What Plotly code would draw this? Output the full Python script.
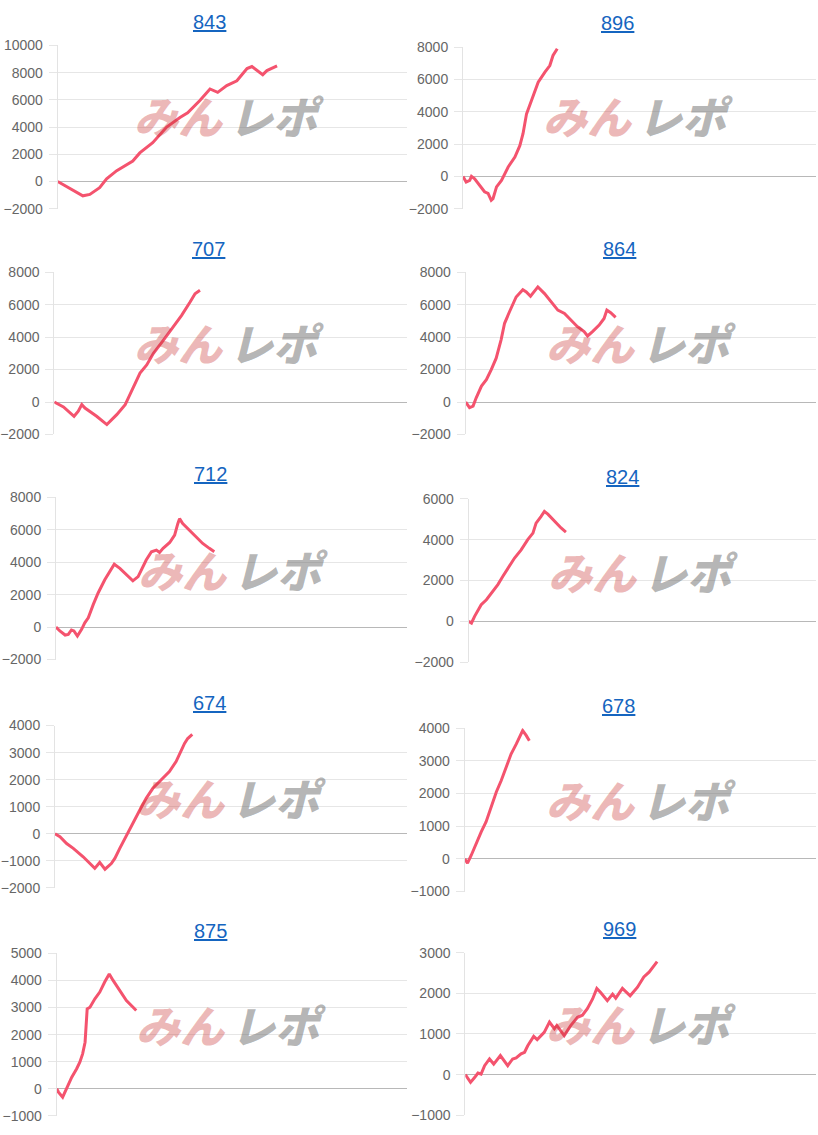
import plotly.graph_objects as go

W, H = 818, 1135

# machine numbers shown as panel titles
titles = ["843", "896", "707", "864", "712", "824", "674", "678", "875", "969"]

# x = progress through the day (0-100 of the axis), y = coin difference
g_843 = [0, 2, 5.4, 7.2, 9.2, 12, 14, 16.9, 21.5, 23.5, 27.2, 31.2, 35, 37.2, 40.7, 43.6, 45.8, 48.4, 51.3, 54.2,
         55.6, 58.7, 59.9, 62.8]
d_843 = [0, -300, -800, -1050, -950, -450, 200, 800, 1500, 2100, 2850, 4000, 4700, 5050, 5950, 6800, 6550, 7050,
         7400, 8300, 8450, 7850, 8150, 8500]

g_896 = [0, 0.9, 1.9, 2.4, 3.3, 4.7, 6.1, 7.1, 8.0, 8.5, 9.5, 10.9, 12.8, 14.7, 16.1, 17.0, 18.0, 19.4, 21.3, 23.2,
         24.6, 25.5, 26.7]
d_896 = [0, -350, -250, 0, -150, -550, -950, -1050, -1480, -1380, -650, -250, 580, 1200, 1900, 2640, 3870, 4700,
         5830, 6450, 6860, 7480, 7900]

g_707 = [0, 2.6, 5.6, 6.8, 7.8, 8.7, 12.0, 14.9, 17.7, 20.1, 21.0, 22.4, 24.3, 26.2, 28.1, 30.9, 33.8, 36.1, 38.5,
         39.9, 41.3]
d_707 = [0, -300, -880, -570, -160, -370, -880, -1390, -780, -160, 250, 860, 1780, 2280, 3000, 3800, 4630, 5340,
         6160, 6670, 6880]

g_864 = [0, 1.1, 2.1, 3.0, 4.5, 5.9, 7.3, 8.7, 10.1, 11.1, 12.5, 14.4, 16.3, 17.3, 18.5, 19.4, 20.6, 22.5, 24.4,
         26.3, 28.2, 30.0, 31.9, 33.8, 34.8, 36.2, 38.1, 39.5, 40.3, 41.4, 42.8]
d_864 = [0, -350, -250, 260, 980, 1380, 2000, 2700, 3830, 4850, 5560, 6470, 6920, 6780, 6520, 6780, 7090, 6680,
         6170, 5660, 5460, 5050, 4640, 4340, 4070, 4340, 4740, 5150, 5660, 5500, 5210]

g_712 = [0, 1.1, 2.6, 3.5, 4.4, 5.1, 6.1, 7.3, 8.2, 9.2, 10.6, 12.0, 13.9, 15.3, 16.6, 18.2, 20.1, 21.9, 23.4, 24.3,
         25.7, 27.2, 28.6, 29.5, 30.5, 32.4, 33.8, 34.7, 35.2, 36.1, 38.0, 39.9, 41.8, 43.7, 45.1]
d_712 = [0, -240, -490, -450, -180, -240, -550, -140, 260, 570, 1380, 2100, 2910, 3420, 3870, 3620, 3220, 2850,
         3110, 3520, 4130, 4640, 4740, 4600, 4850, 5210, 5660, 6370, 6680, 6370, 5970, 5560, 5150, 4850, 4640]

g_824 = [0, 0.8, 1.7, 2.7, 3.6, 5.1, 6.5, 8.4, 9.8, 11.3, 13.2, 15.1, 17.0, 18.5, 19.4, 20.8, 21.8, 22.8, 24.7,
         26.6, 28.0]
d_824 = [0, -80, 245, 570, 815, 1060, 1390, 1800, 2200, 2610, 3100, 3500, 4000, 4320, 4810, 5130, 5380, 5250,
         4890, 4570, 4370]

g_674 = [0, 1.4, 3.3, 5.2, 8.0, 9.9, 11.3, 12.7, 14.2, 16.0, 17.0, 18.4, 20.3, 22.2, 24.1, 25.9, 27.8, 29.7, 32.5,
         34.4, 35.8, 36.8, 37.7, 39.0]
d_674 = [0, -110, -360, -540, -850, -1100, -1280, -1060, -1310, -1100, -910, -540, -50, 380, 880, 1310, 1680,
         1930, 2300, 2670, 3090, 3340, 3520, 3670]

g_678 = [0, 0.8, 1.9, 3.3, 4.7, 6.1, 7.6, 9.0, 10.4, 11.8, 13.2, 14.7, 16.5, 17.5, 18.4]
d_678 = [0, -130, 120, 480, 830, 1140, 1590, 2050, 2400, 2810, 3210, 3520, 3930, 3780, 3620]

g_875 = [0, 0.5, 1.7, 2.8, 4.3, 5.7, 6.6, 7.4, 8.1, 8.7, 9.5, 10.9, 12.3, 13.7, 15.0, 16.1, 18.0, 19.9, 21.8, 22.7]
d_875 = [0, -120, -310, 0, 430, 740, 980, 1290, 1720, 2950, 3010, 3320, 3570, 3940, 4240, 4000, 3630, 3260,
         3010, 2890]

g_969 = [0, 1.5, 2.7, 3.6, 4.5, 5.5, 6.9, 8.1, 10.0, 12.1, 13.5, 14.5, 15.9, 16.9, 17.8, 19.5, 20.5, 21.6, 22.5,
         24.0, 25.4, 26.1, 28.2, 30.1, 32.0, 33.4, 34.8, 36.3, 37.5, 38.6, 40.5, 42.0, 42.9, 44.8, 47.0, 49.1,
         50.9, 52.4, 53.8, 54.7]
d_969 = [0, -190, -65, 40, 15, 220, 385, 260, 470, 220, 385, 410, 510, 550, 710, 940, 860, 960, 1040, 1290, 1130,
         1210, 960, 1210, 1410, 1460, 1620, 1860, 2120, 2020, 1820, 1980, 1880, 2120, 1940, 2150, 2400, 2520,
         2690, 2780]

games = [g_843, g_896, g_707, g_864, g_712, g_824, g_674, g_678, g_875, g_969]
diffs = [d_843, d_896, d_707, d_864, d_712, d_824, d_674, d_678, d_875, d_969]

# y axis ranges and tick steps per panel
y_ranges = [[-2000, 10000], [-2000, 8000], [-2000, 8000], [-2000, 8000], [-2000, 8000],
            [-2000, 6000], [-2000, 4000], [-1000, 4000], [-1000, 5000], [-1000, 3000]]
y_steps = [2000, 2000, 2000, 2000, 2000, 2000, 1000, 1000, 1000, 1000]

# panel boxes in pixels: left, right, top, bottom, title centre, logo centre
boxes = [
    (57.7, 407, 45, 208.3, (209, 22), (229, 115)),
    (463, 816, 46.7, 208.3, (617, 22.7), (638, 115)),
    (54.3, 407, 271.7, 434, (208, 249), (229, 342)),
    (465.7, 816, 271.7, 434, (619.7, 249), (641, 342)),
    (56, 407, 496.7, 659, (210.7, 474), (233, 568)),
    (468.7, 816, 498.3, 661.7, (622, 476.7), (642.5, 570)),
    (55, 407, 725, 887.3, (209, 702), (231, 796)),
    (464.7, 816, 727.7, 891, (618.7, 705.7), (640.5, 798.5)),
    (56.7, 407, 952.7, 1115.3, (210, 930), (231, 1023.5)),
    (465.3, 816, 952, 1114.7, (619.7, 928.7), (640.5, 1022.5)),
]

# the page snapshot squeezes the figure a little vertically; compensate
Y_OFF, Y_SCALE = 7.6, 0.9857


def fy(px):
    return 1 - ((px - Y_OFF) / Y_SCALE) / H


LINE = "#f4536e"
FONT = "Liberation Sans, Arial, sans-serif"
JP = "Noto Sans CJK JP, sans-serif"

fig = go.Figure()
annotations = []
layout_axes = {}

for i, (g, d) in enumerate(zip(games, diffs)):
    n = i + 1
    xa, ya = f"x{n}", f"y{n}"
    left, right, top, bottom, (tx, ty), (lx, ly) = boxes[i]

    fig.add_trace(go.Scatter(
        x=g, y=d, xaxis=xa, yaxis=ya, mode="lines",
        line=dict(color=LINE, width=3), showlegend=False, hoverinfo="x+y"
    ))

    layout_axes[f"xaxis{n}"] = dict(
        domain=[left / W, right / W], range=[0, 100], anchor=ya,
        showgrid=False, zeroline=False, showticklabels=False,
        showline=False, fixedrange=True
    )
    layout_axes[f"yaxis{n}"] = dict(
        domain=[fy(bottom), fy(top)], range=y_ranges[i], dtick=y_steps[i],
        anchor=xa, showgrid=True, gridcolor="#e6e6e6", gridwidth=1,
        zeroline=True, zerolinecolor="#b8b8b8", zerolinewidth=1,
        showline=True, linecolor="#e3e3e3", linewidth=1,
        ticks="outside", ticklen=8, tickcolor="#e6e6e6",
        ticklabelstandoff=3, tickformat="d",
        tickfont=dict(family=FONT, size=14, color="#666666"), fixedrange=True
    )

    annotations.append(dict(
        xref="paper", yref="paper", x=tx / W, y=fy(ty),
        text=f"<u>{titles[i]}</u>", showarrow=False,
        xanchor="center", yanchor="middle",
        font=dict(family=FONT, size=20, color="#1565c0")
    ))
    # みんレポ watermark
    annotations.append(dict(
        xref="paper", yref="paper", x=(lx - 50) / W, y=fy(ly),
        text="<i>みん</i>", showarrow=False,
        xanchor="center", yanchor="middle",
        font=dict(family=JP, size=44, weight=900, color="rgba(200,50,50,0.35)")
    ))
    annotations.append(dict(
        xref="paper", yref="paper", x=(lx + 48) / W, y=fy(ly),
        text="<i>レポ</i>", showarrow=False,
        xanchor="center", yanchor="middle",
        font=dict(family=JP, size=44, weight=900, color="rgba(100,100,100,0.48)")
    ))

fig.update_layout(
    width=W, height=H, autosize=False,
    margin=dict(l=0, r=0, t=0, b=0),
    paper_bgcolor="white", plot_bgcolor="white",
    annotations=annotations,
    font=dict(family=FONT),
    **layout_axes
)

fig.write_html("out.html", config={"displayModeBar": False},
               post_script="document.body.style.margin = '0';")
